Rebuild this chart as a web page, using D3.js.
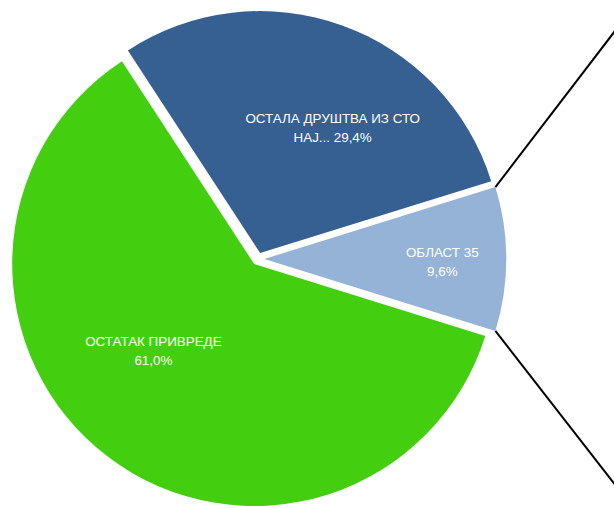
<!DOCTYPE html>
<html>
<head>
<meta charset="utf-8">
<script src="https://cdn.jsdelivr.net/npm/d3@7"></script>
<style>
  html, body { margin: 0; padding: 0; background: #fff; }
  svg { display: block; }
  .slice-label { fill: #fff; font-family: "Liberation Sans", Arial, sans-serif; font-size: 13.4px; }
</style>
</head>
<body>
<div id="chart"></div>
<script>
// data
var categories = ["ОСТАЛА ДРУШТВА ИЗ СТО НАЈ...", "ОБЛАСТ 35", "ОСТАТАК ПРИВРЕДЕ"];
var values = [29.4, 9.6, 61.0];
var labelLines = [
  ["ОСТАЛА ДРУШТВА ИЗ СТО", "НАЈ... 29,4%"],
  ["ОБЛАСТ 35", "9,6%"],
  ["ОСТАТАК ПРИВРЕДЕ", "61,0%"]
];
var colors = ["#366092", "#95b3d7", "#43cf0f"];

function pieOfPieChart() {
  var width = 614,
      height = 508,
      center = [258, 259],
      radius = 242,
      explode = 6.3,
      splitIndex = 1,          // slice that is broken out to the second plot
      lineHeight = 19,
      // label placement in polar coords from each slice's own center (deg, px)
      labelPos = [{a: 30.0, r: 145}, {a: 90.9, r: 178}, {a: 229.3, r: 133}],
      // second plot lies off the right edge, only its connector lines show
      secondPlot = {x: 700, top: -80, bottom: 594};

  function chart(selection) {
    selection.each(function(data) {
      var total = d3.sum(data, function(d) { return d.value; });
      var before = d3.sum(data.slice(0, splitIndex), function(d) { return d.value; });
      // put the split slice centred on 3 o'clock
      var start = Math.PI / 2 - (before + data[splitIndex].value / 2) / total * 2 * Math.PI;

      var pie = d3.pie()
        .value(function(d) { return d.value; })
        .sort(null)
        .startAngle(start)
        .endAngle(start + 2 * Math.PI);

      var arc = d3.arc().innerRadius(0).outerRadius(radius);
      var arcs = pie(data);

      function offset(d) {
        var mid = (d.startAngle + d.endAngle) / 2;
        return [Math.sin(mid) * explode, -Math.cos(mid) * explode];
      }

      var svg = d3.select(this).append("svg")
        .attr("width", width)
        .attr("height", height);

      var g = svg.append("g")
        .attr("transform", "translate(" + center[0] + "," + center[1] + ")");

      var slices = g.selectAll(".slice").data(arcs)
        .enter().append("g")
        .attr("class", "slice")
        .attr("transform", function(d) {
          var o = offset(d);
          return "translate(" + o[0] + "," + o[1] + ")";
        });

      slices.append("path")
        .attr("d", arc)
        .attr("fill", function(d, i) { return d.data.color; });

      // connector lines from the split slice's outer corners
      var s = arcs[splitIndex], so = offset(s);
      var corners = [s.startAngle, s.endAngle].map(function(a) {
        return [center[0] + so[0] + Math.sin(a) * radius, center[1] + so[1] - Math.cos(a) * radius];
      });
      var ends = [[secondPlot.x, secondPlot.top], [secondPlot.x, secondPlot.bottom]];
      svg.selectAll(".connector").data([0, 1])
        .enter().append("line")
        .attr("class", "connector")
        .attr("x1", function(i) { return corners[i][0]; })
        .attr("y1", function(i) { return corners[i][1]; })
        .attr("x2", function(i) { return ends[i][0]; })
        .attr("y2", function(i) { return ends[i][1]; })
        .attr("stroke", "#000")
        .attr("stroke-width", 2);

      var labels = slices.append("text")
        .attr("class", "slice-label")
        .attr("text-anchor", "middle")
        .attr("transform", function(d, i) {
          var p = labelPos[i], a = p.a * Math.PI / 180;
          return "translate(" + (Math.sin(a) * p.r) + "," + (-Math.cos(a) * p.r) + ")";
        });

      labels.selectAll("tspan")
        .data(function(d) { return d.data.lines; })
        .enter().append("tspan")
        .attr("x", 0)
        .attr("y", function(t, j, nodes) { return (j - (nodes.length - 1) / 2) * lineHeight; })
        .attr("dy", "0.35em")
        .text(function(t) { return t; });
    });
  }

  chart.width = function(_) {
    if (!arguments.length) return width;
    width = _;
    return chart;
  };

  chart.height = function(_) {
    if (!arguments.length) return height;
    height = _;
    return chart;
  };

  return chart;
}

var rows = categories.map(function(c, i) {
  return {label: c, value: values[i], lines: labelLines[i], color: colors[i]};
});

d3.select("#chart").datum(rows).call(pieOfPieChart());
</script>
</body>
</html>
